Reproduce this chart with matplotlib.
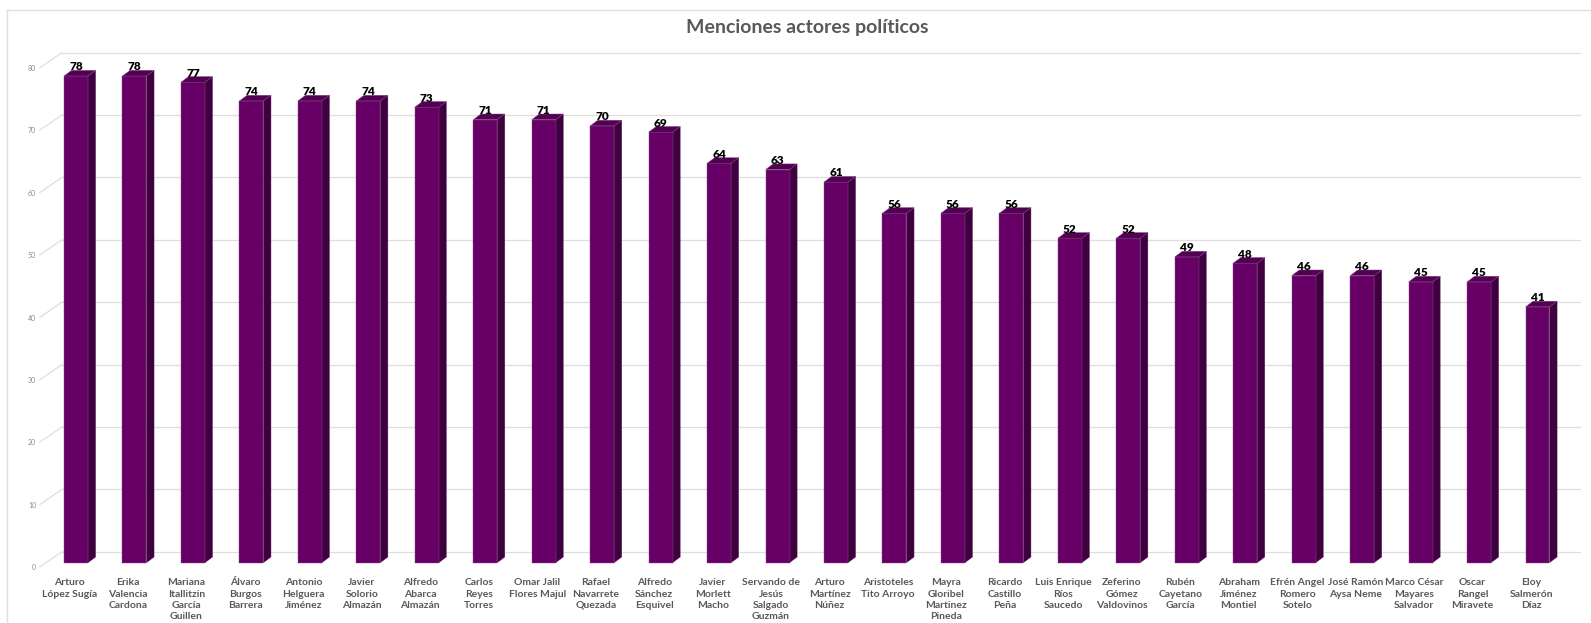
import matplotlib
matplotlib.use('Agg')
import matplotlib.pyplot as plt
from matplotlib.patches import Polygon
from matplotlib.lines import Line2D

plt.rcParams['font.family'] = ['Lato', 'DejaVu Sans']

# nombres (con los saltos de linea del grafico original)
nombres = ['Arturo\nLópez Sugía', 'Erika\nValencia\nCardona', 'Mariana\nItallitzin\nGarcía\nGuillen',
           'Álvaro\nBurgos\nBarrera', 'Antonio\nHelguera\nJiménez', 'Javier\nSolorio\nAlmazán',
           'Alfredo\nAbarca\nAlmazán', 'Carlos\nReyes\nTorres', 'Omar Jalil\nFlores Majul',
           'Rafael\nNavarrete\nQuezada', 'Alfredo\nSánchez\nEsquivel', 'Javier\nMorlett\nMacho',
           'Servando de\nJesús\nSalgado\nGuzmán', 'Arturo\nMartínez\nNúñez', 'Aristoteles\nTito Arroyo',
           'Mayra\nGloribel\nMartinez\nPineda', 'Ricardo\nCastillo\nPeña', 'Luis Enrique\nRíos\nSaucedo',
           'Zeferino\nGómez\nValdovinos', 'Rubén\nCayetano\nGarcía', 'Abraham\nJiménez\nMontiel',
           'Efrén Angel\nRomero\nSotelo', 'José Ramón\nAysa Neme', 'Marco César\nMayares\nSalvador',
           'Oscar\nRangel\nMiravete', 'Eloy\nSalmerón\nDíaz']
menciones = [78, 78, 77, 74, 74, 74, 73, 71, 71, 70, 69, 64, 63, 61, 56, 56, 56, 52, 52, 49, 48, 46, 46, 45, 45, 41]
yticks = [0, 10, 20, 30, 40, 50, 60, 70, 80]

titulo = 'Menciones actores políticos'

frente = '#660066'
lado = '#3e003e'
arriba = '#520052'
gris = '#dedede'

fig = plt.figure(figsize=(15.91, 6.23), dpi=100)
ax = fig.add_axes([0, 0, 1, 1])
ax.axis('off')
# 1 unidad en x = 58.46 px, 1 unidad en y = 6.24 px
ax.set_xlim(-76 / 58.46, (1591 - 76) / 58.46)
ax.set_ylim(-(623 - 562.7) / 6.24, 562.7 / 6.24)

ancho = 0.41
dx = 0.13   # profundidad de la barra
dy = 0.91
wall_x0 = -0.24
wall_x1 = 25.73
wall_dy = 1.76
front_x0 = -0.62
front_dy = -0.69

# pared del fondo
for v in yticks:
    ax.plot([wall_x0, wall_x1], [v + wall_dy, v + wall_dy], color=gris, lw=0.9, zorder=1)
    ax.plot([front_x0, wall_x0], [v + front_dy, v + wall_dy], color=gris, lw=0.9, zorder=1)
    ax.text(front_x0 - 0.06, v - 0.8, str(v), ha='right', va='center', fontsize=5, color='#8c8c8c')

x = list(range(len(menciones)))
ax.bar(x, menciones, width=ancho, color=frente, edgecolor='#8a4a8a', linewidth=0.3, zorder=3)
for i, v in zip(x, menciones):
    r = i + ancho / 2
    l = i - ancho / 2
    ax.add_patch(Polygon([(r, 0), (r + dx, dy), (r + dx, v + dy), (r, v)], closed=True,
                         facecolor=lado, edgecolor='#5a205a', lw=0.3, zorder=2))
    ax.add_patch(Polygon([(l, v), (r, v), (r + dx, v + dy), (l + dx, v + dy)], closed=True,
                         facecolor=arriba, edgecolor='#8a4a8a', lw=0.3, zorder=4))
    ax.text(i, v + 0.9, str(v), ha='center', va='baseline', fontsize=8.5, fontweight='heavy',
            color='black', zorder=5)

for i, n in zip(x, nombres):
    ax.text(i - 0.11, -2.5, n, ha='center', va='top', fontsize=7.5, fontweight='bold',
            color='#595959', linespacing=1.32)

fig.text(807 / 1591, 1 - 28 / 623, titulo, ha='center', va='center', fontsize=14,
         fontweight='bold', color='#595959')

# borde del area del grafico
fig.add_artist(Line2D([7 / 1591, 1], [1 - 10 / 623, 1 - 10 / 623], color=gris, lw=1))
fig.add_artist(Line2D([7 / 1591, 7 / 1591], [0, 1 - 10 / 623], color=gris, lw=1))

fig.savefig('out.png', dpi=100)
